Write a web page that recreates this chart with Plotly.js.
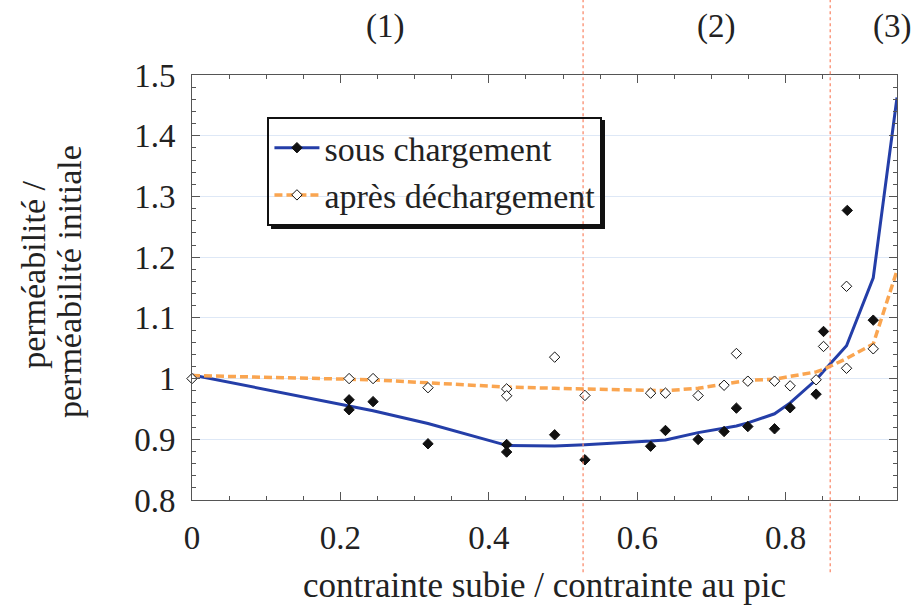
<!DOCTYPE html>
<html><head><meta charset="utf-8">
<script src="https://cdn.plot.ly/plotly-3.0.1.min.js"></script>
<style>html,body{margin:0;padding:0;background:#fff}</style>
</head><body><div id="chart" style="width:917px;height:605px"></div>
<script>
// measured points: "sous chargement" (filled diamonds)
const sousX = [0.2117, 0.2117, 0.244, 0.318, 0.424, 0.424, 0.4887, 0.5295, 0.618, 0.638, 0.682, 0.717, 0.7336, 0.749, 0.785, 0.806, 0.841, 0.851, 0.883, 0.918];
const sousY = [0.965, 0.9486, 0.962, 0.8926, 0.8914, 0.879, 0.9074, 0.8662, 0.8886, 0.9145, 0.8997, 0.9128, 0.9513, 0.921, 0.9173, 0.9519, 0.9743, 1.0776, 1.277, 1.0962];
// measured points: "après déchargement" (open diamonds)
const apresX = [0, 0.2117, 0.244, 0.318, 0.424, 0.424, 0.4887, 0.5295, 0.618, 0.638, 0.682, 0.717, 0.7336, 0.749, 0.785, 0.806, 0.841, 0.851, 0.882, 0.882, 0.918];
const apresY = [1.0, 1.0, 1.0, 0.985, 0.983, 0.9717, 1.0353, 0.9722, 0.976, 0.976, 0.972, 0.989, 1.0413, 0.9957, 0.9957, 0.988, 0.998, 1.0529, 1.017, 1.152, 1.049];
// trend curves
const curveX = [0, 0.2117, 0.244, 0.318, 0.424, 0.4887, 0.5295, 0.618, 0.638, 0.682, 0.717, 0.7336, 0.749, 0.785, 0.806, 0.841, 0.851, 0.882, 0.918, 0.95];
const sousCurve = [1.006, 0.954, 0.947, 0.926, 0.890, 0.889, 0.891, 0.897, 0.899, 0.911, 0.918, 0.922, 0.927, 0.942, 0.960, 0.998, 1.012, 1.054, 1.166, 1.463];
const apresCurve = [1.005, 0.999, 0.998, 0.993, 0.986, 0.984, 0.983, 0.980, 0.980, 0.984, 0.9915, 0.994, 0.997, 0.999, 1.003, 1.011, 1.015, 1.033, 1.057, 1.178];
// region boundaries and labels
const boundaries = [0.527, 0.86];
const regionLabels = ['(1)', '(2)', '(3)'];
const regionX = [0.26, 0.706, 0.943];
const xTitle = 'contrainte subie / contrainte au pic';
const yTitleLines = ['perméabilité /', 'perméabilité initiale'];
const legendNames = ['sous chargement', 'après déchargement'];

const FONT = '"Liberation Serif", "Times New Roman", "DejaVu Serif", serif';
const BLUE = 'rgb(36,62,168)';
const ORANGE = 'rgb(250,165,80)';

// isolate each point with a null so "lines+markers" shows only markers (legend keeps line + marker)
function isolate(a) { const o = []; a.forEach(v => { o.push(v); o.push(null); }); return o; }

const traces = [
  {x: curveX, y: sousCurve, mode: 'lines', line: {color: BLUE, width: 3}, showlegend: false, hoverinfo: 'skip'},
  {x: curveX, y: apresCurve, mode: 'lines', line: {color: ORANGE, width: 3.5, dash: '8px,4px'}, showlegend: false, hoverinfo: 'skip'},
  {x: isolate(sousX), y: isolate(sousY), name: legendNames[0], mode: 'lines+markers', connectgaps: false,
   line: {color: BLUE, width: 3}, cliponaxis: false,
   marker: {symbol: 'diamond', size: 8, color: '#111', line: {color: '#111', width: 1}}},
  {x: isolate(apresX), y: isolate(apresY), name: legendNames[1], mode: 'lines+markers', connectgaps: false,
   line: {color: ORANGE, width: 3.5, dash: '8px,4px'}, cliponaxis: false,
   marker: {symbol: 'diamond', size: 8, color: '#fff', line: {color: '#111', width: 1}}}
];

const shapes = boundaries.map(b => ({type: 'line', xref: 'x', yref: 'paper', x0: b, x1: b, y0: -0.17, y1: 1.18,
  line: {color: 'rgb(250,140,110)', width: 1.3, dash: 'dot'}, layer: 'above'}));
// drop shadow of the legend box (right and bottom edges)
shapes.push({type: 'line', xref: 'paper', yref: 'paper', x0: 0.5837, x1: 0.5837, y0: 0.8941, y1: 0.6412,
  line: {color: '#111', width: 3}, layer: 'above'});
shapes.push({type: 'line', xref: 'paper', yref: 'paper', x0: 0.1121, x1: 0.5858, y0: 0.6412, y1: 0.6412,
  line: {color: '#111', width: 3}, layer: 'above'});

const annotations = regionLabels.map((t, i) => ({text: t, xref: 'x', yref: 'paper', x: regionX[i], y: 1.113,
  showarrow: false, font: {family: FONT, size: 33, color: '#222'}, xanchor: 'center', yanchor: 'middle'}));
annotations.push({text: yTitleLines[0], xref: 'paper', yref: 'paper', x: -0.224, y: 0.53, textangle: -90,
  showarrow: false, font: {family: FONT, size: 34, color: '#222'}, xanchor: 'center', yanchor: 'middle'});
annotations.push({text: yTitleLines[1], xref: 'paper', yref: 'paper', x: -0.173, y: 0.513, textangle: -90,
  showarrow: false, font: {family: FONT, size: 34, color: '#222'}, xanchor: 'center', yanchor: 'middle'});

const layout = {
  width: 917, height: 605,
  margin: {l: 192, r: 20, t: 75, b: 105},
  paper_bgcolor: '#fff', plot_bgcolor: '#fff',
  font: {family: FONT, size: 33, color: '#222'},
  showlegend: true,
  legend: {x: 0.107, y: 0.901, xanchor: 'left', yanchor: 'top', bgcolor: 'rgba(0,0,0,0)',
    bordercolor: '#111', borderwidth: 2, font: {family: FONT, size: 34, color: '#222'}, itemwidth: 45,
    tracegroupgap: 0},
  xaxis: {range: [0, 0.95], dtick: 0.2, tick0: 0, ticks: 'inside', ticklen: 8, tickcolor: '#555', tickwidth: 1,
    showline: true, linecolor: '#555', linewidth: 1, mirror: 'ticks', showgrid: false, zeroline: false,
    ticklabelstandoff: 8,
    minor: {dtick: 0.05, ticks: 'inside', ticklen: 4, tickcolor: '#555', showgrid: false},
    title: {text: xTitle, font: {family: FONT, size: 35, color: '#222'}, standoff: 18},
    tickfont: {family: FONT, size: 33, color: '#222'}},
  yaxis: {range: [0.8, 1.5], dtick: 0.1, tick0: 0.8, ticks: 'inside', ticklen: 8, tickcolor: '#555', tickwidth: 1,
    showline: true, linecolor: '#555', linewidth: 1, mirror: 'ticks', showgrid: true, gridcolor: 'rgb(222,232,246)',
    zeroline: false, ticklabelstandoff: 9,
    minor: {dtick: 0.02, ticks: 'inside', ticklen: 4, tickcolor: '#555', showgrid: false},
    tickfont: {family: FONT, size: 33, color: '#222'}},
  shapes: shapes,
  annotations: annotations
};

Plotly.newPlot('chart', traces, layout, {displayModeBar: false, staticPlot: true});
</script>
</body></html>
